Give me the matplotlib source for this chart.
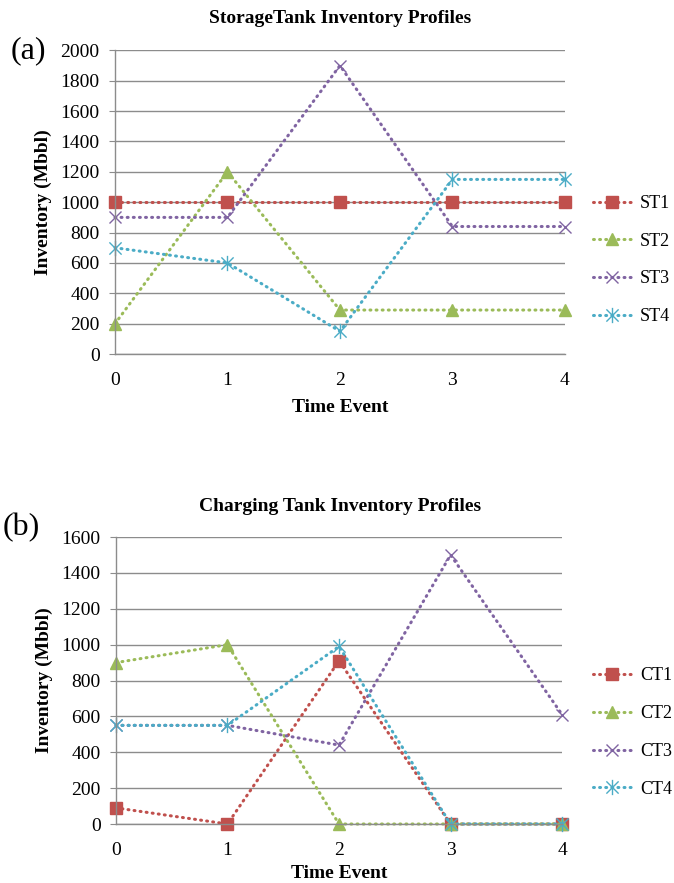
import matplotlib
matplotlib.use("Agg")
import matplotlib.pyplot as plt
from matplotlib.path import Path
import numpy as np

plt.rcParams['font.family'] = ['Liberation Serif', 'DejaVu Serif']

time_events = [0, 1, 2, 3, 4]

st_names = ["ST1", "ST2", "ST3", "ST4"]
st1 = [1000, 1000, 1000, 1000, 1000]
st2 = [200, 1200, 290, 290, 290]
st3 = [900, 900, 1900, 840, 840]
st4 = [700, 600, 150, 1150, 1150]

ct_names = ["CT1", "CT2", "CT3", "CT4"]
ct1 = [90, 0, 910, 0, 0]
ct2 = [900, 1000, 0, 0, 0]
ct3 = [550, 550, 440, 1500, 610]
ct4 = [550, 550, 990, 0, 0]

colors = ["#C0504D", "#9BBB59", "#8064A2", "#4BACC6"]

star = Path([(0, -1), (0, 1), (-0.8, -0.8), (0.8, 0.8), (-0.8, 0.8), (0.8, -0.8)],
            [Path.MOVETO, Path.LINETO, Path.MOVETO, Path.LINETO, Path.MOVETO, Path.LINETO])
markers = [dict(marker='s', markersize=9),
           dict(marker='^', markersize=9),
           dict(marker='x', markersize=9, markeredgewidth=1.0),
           dict(marker=star, markersize=11, markeredgewidth=1.0)]

fig = plt.figure(figsize=(6.74, 8.83), dpi=100)

def draw(rect, series, names, ymax, title, title_y, panel, panel_xy, leg_y, xlabelpad):
    ax = fig.add_axes(rect)
    for s, n, c, m in zip(series, names, colors, markers):
        ax.plot(time_events, s, linestyle=(0, (0.3, 1.7)), dash_capstyle='round',
                linewidth=2.2, color=c, label=n, markerfacecolor=c,
                markeredgecolor=c, clip_on=False, **m)
    ax.set_xlim(0, 4)
    ax.set_ylim(0, ymax)
    ax.set_yticks(np.arange(0, ymax + 1, 200))
    ax.set_xticks(time_events)
    ax.yaxis.grid(True, color='#8c8c8c', linewidth=1.0)
    ax.set_axisbelow(True)
    for sp in ['top', 'right']:
        ax.spines[sp].set_visible(False)
    for sp in ['left', 'bottom']:
        ax.spines[sp].set_color('#8c8c8c')
        ax.spines[sp].set_linewidth(1.0)
    ax.tick_params(axis='y', length=4, color='#8c8c8c', labelsize=14, pad=7)
    ax.tick_params(axis='x', length=0, labelsize=14, pad=13)
    ax.set_xlabel("Time Event", fontsize=14, fontweight='bold', labelpad=xlabelpad)
    ax.set_ylabel("Inventory (Mbbl)", fontsize=14, fontweight='bold', labelpad=6)
    fig.text(0.505, title_y, title, ha='center', va='center', fontsize=14, fontweight='bold')
    fig.text(panel_xy[0], panel_xy[1], panel, ha='left', va='center', fontsize=23)
    ax.legend(loc='center left', bbox_to_anchor=(0.856, leg_y), bbox_transform=fig.transFigure,
              frameon=False, fontsize=13, handlelength=2.1, labelspacing=1.15, handletextpad=0.5)
    return ax

draw([0.1706, 0.599, 0.6675, 0.344], [st1, st2, st3, st4], st_names, 2000,
     "StorageTank Inventory Profiles", 0.979, "(a)", (0.016, 0.943), 0.7055, 7)
draw([0.172, 0.0668, 0.662, 0.325], [ct1, ct2, ct3, ct4], ct_names, 1600,
     "Charging Tank Inventory Profiles", 0.426, "(b)", (0.004, 0.402), 0.1705, 4)

fig.savefig("out.png", dpi=100)
